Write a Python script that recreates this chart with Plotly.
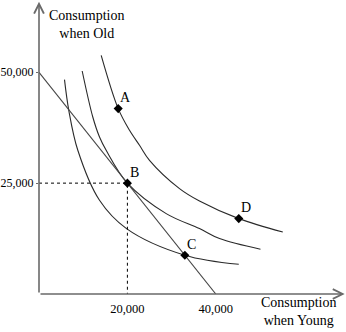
import plotly.graph_objects as go

# ---- data (values in dollars) ----
budget_x = [0, 40000]
budget_y = [50000, 0]

ic1_x = [5770, 6740, 8780, 13690, 19800, 33000, 45200]
ic1_y = [48350, 41430, 32410, 21130, 14750, 8750, 6700]

ic2_x = [9770, 12170, 13690, 15200, 20000, 28780, 36310, 40840, 50110]
ic2_y = [50290, 39920, 35410, 32410, 25000, 18130, 14750, 12490, 10080]

ic3_x = [14070, 17920, 20480, 22740, 25000, 31790, 36310, 45200, 55160]
ic3_y = [53830, 41810, 36920, 33540, 30150, 23770, 20970, 17000, 13980]

pt_labels = ["A", "B", "C", "D"]
pt_x = [17920, 20000, 33000, 45200]
pt_y = [41810, 25000, 8750, 17000]

xtick_vals = [20000, 40000]
xtick_text = ["20,000", "40,000"]
ytick_vals = [25000, 50000]
ytick_text = ["25,000", "50,000"]

# ---- layout geometry ----
W, H = 346, 332
ML, MB = 39, 38
XMAX = 69460
YMAX = 66300
FONT = "Liberation Serif"

fig = go.Figure()

curve_style = dict(color="#2a2a2a", width=1.1)
for cx, cy in [(ic1_x, ic1_y), (ic2_x, ic2_y), (ic3_x, ic3_y)]:
    fig.add_trace(go.Scatter(x=cx, y=cy, mode="lines", line=dict(shape="spline", smoothing=1.0, **curve_style),
                             hoverinfo="skip", showlegend=False))

fig.add_trace(go.Scatter(x=budget_x, y=budget_y, mode="lines", line=dict(color="#444", width=1.1),
                         hoverinfo="skip", showlegend=False))

# dashed guides to point B
bx, by = pt_x[1], pt_y[1]
fig.add_trace(go.Scatter(x=[0, bx, bx], y=[by, by, 0], mode="lines",
                         line=dict(color="black", width=1, dash="3px,3px"),
                         hoverinfo="skip", showlegend=False))

fig.add_trace(go.Scatter(x=pt_x, y=pt_y, mode="markers",
                         marker=dict(symbol="diamond", size=7, color="black"),
                         hoverinfo="skip", showlegend=False))

for lab, x, y in zip(pt_labels, pt_x, pt_y):
    fig.add_annotation(x=x, y=y, text=lab, showarrow=False, xshift=7, yshift=11,
                       font=dict(family=FONT, size=14, color="black"))

# axes with arrowheads
axis_col = "#6a6a6a"
fig.add_annotation(x=XMAX - 300, y=0, ax=0, ay=0, xref="x", yref="y", axref="x", ayref="y",
                   text="", showarrow=True, arrowhead=5, arrowsize=1.2, arrowwidth=1.6, arrowcolor=axis_col)
fig.add_annotation(x=0, y=YMAX - 400, ax=0, ay=0, xref="x", yref="y", axref="x", ayref="y",
                   text="", showarrow=True, arrowhead=5, arrowsize=1.2, arrowwidth=1.6, arrowcolor=axis_col)

# axis titles
fig.add_annotation(x=(86 - ML) / (W - ML), y=(H - MB - 25) / (H - MB), xref="paper", yref="paper",
                   xanchor="center", yanchor="middle",
                   text="Consumption<br>when Old", showarrow=False, align="center",
                   font=dict(family=FONT, size=14, color="black"))
fig.add_annotation(x=(298 - ML) / (W - ML), y=(H - MB - 311) / (H - MB), xref="paper", yref="paper",
                   xanchor="center", yanchor="middle",
                   text="Consumption<br>when Young", showarrow=False, align="center",
                   font=dict(family=FONT, size=14, color="black"))

fig.update_layout(
    width=W, height=H,
    margin=dict(l=ML, r=0, t=0, b=MB, autoexpand=False),
    paper_bgcolor="white", plot_bgcolor="white",
    xaxis=dict(range=[0, XMAX], showgrid=False, zeroline=False, showline=False, automargin=False,
               tickvals=xtick_vals, ticktext=xtick_text, ticks="", ticklabelstandoff=5,
               tickfont=dict(family=FONT, size=12.5, color="black")),
    yaxis=dict(range=[0, YMAX], showgrid=False, zeroline=False, showline=False, automargin=False,
               tickvals=ytick_vals, ticktext=ytick_text, ticks="outside", ticklen=2,
               tickcolor=axis_col, tickfont=dict(family=FONT, size=12, color="black")),
)

fig.write_html("out.html")
